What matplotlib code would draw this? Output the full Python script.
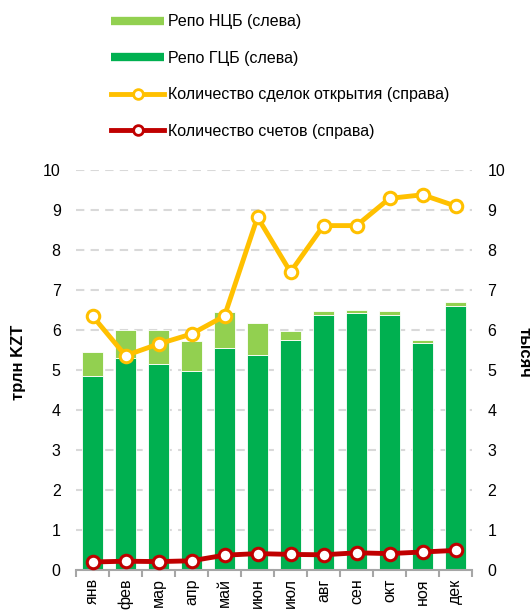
import matplotlib.pyplot as plt
from matplotlib.lines import Line2D
import numpy as np

plt.rcParams['font.family'] = ['Liberation Sans', 'DejaVu Sans']

months = ["янв", "фев", "мар", "апр", "май", "июн", "июл", "авг", "сен", "окт", "ноя", "дек"]
repo_gcb = [4.85, 5.30, 5.15, 4.97, 5.54, 5.37, 5.76, 6.38, 6.42, 6.38, 5.67, 6.59]
repo_total = [5.44, 6.00, 6.01, 5.73, 6.44, 6.17, 5.97, 6.47, 6.51, 6.48, 5.76, 6.71]
repo_ncb = [t - g for t, g in zip(repo_total, repo_gcb)]
deals = [6.35, 5.36, 5.65, 5.90, 6.35, 8.82, 7.45, 8.61, 8.61, 9.29, 9.38, 9.10]
accounts = [0.20, 0.22, 0.21, 0.23, 0.37, 0.41, 0.39, 0.38, 0.43, 0.41, 0.45, 0.49]

dark_green = "#00B050"
light_green = "#92D050"
yellow = "#FFC000"
red = "#C00000"

fig = plt.figure(figsize=(5.32, 6.10), dpi=100)
ax = fig.add_axes([76 / 532, 40 / 610, 396 / 532, 400 / 610])
ax2 = ax.twinx()

x = np.arange(len(months))
ax.bar(x, repo_gcb, width=0.66, color=dark_green, edgecolor="white", linewidth=0.6, zorder=2)
ax.bar(x, repo_ncb, width=0.66, bottom=repo_gcb, color=light_green, edgecolor="white", linewidth=0.6, zorder=2)

ax2.plot(x, deals, color=yellow, lw=3.5, marker="o", ms=9, mfc="white", mec=yellow, mew=2.2, zorder=3)
ax2.plot(x, accounts, color=red, lw=3.5, marker="o", ms=9, mfc="white", mec=red, mew=2.2, zorder=3)

for a in (ax, ax2):
    a.set_ylim(0, 10)
    a.set_xlim(-0.5, len(months) - 0.5)
    a.set_yticks(range(0, 11))
    for s in a.spines.values():
        s.set_visible(False)
    a.tick_params(axis="y", length=0, labelsize=11.5, pad=11)

ax.yaxis.grid(True, color="#D9D9D9", lw=1.5, ls=(0, (4, 3)), zorder=0)
ax.set_axisbelow(True)
ax.spines["bottom"].set_visible(True)
ax.spines["bottom"].set_color("#A6A6A6")
ax.spines["bottom"].set_linewidth(1.5)

ax.set_xticks(x)
ax.set_xticklabels(months, rotation=90, fontsize=11.5)
ax.set_xticks(np.arange(-0.5, len(months)), minor=True)
ax.tick_params(axis="x", which="major", length=0, pad=6)
ax.tick_params(axis="x", which="minor", length=5, width=1.5, color="#A6A6A6")

fig.text(19 / 532, 1 - 362 / 610, "трлн KZT", rotation=90, ha="center", va="center",
         fontsize=12, fontweight="bold")
fig.text(524 / 532, 1 - 352 / 610, "тысяч", rotation=-90, ha="center", va="center",
         fontsize=12, fontweight="bold")

handles = [
    Line2D([], [], color=light_green, lw=6, solid_capstyle="butt"),
    Line2D([], [], color=dark_green, lw=6, solid_capstyle="butt"),
    Line2D([], [], color=yellow, lw=3.5, marker="o", ms=7, mfc="white", mec=yellow, mew=2),
    Line2D([], [], color=red, lw=3.5, marker="o", ms=7, mfc="white", mec=red, mew=2),
]
labels = ["Репо НЦБ (слева)", "Репо ГЦБ (слева)",
          "Количество сделок открытия (справа)", "Количество счетов (справа)"]
fig.legend(handles, labels, loc="upper left", bbox_to_anchor=(100 / 532, 1 - 3 / 610),
           frameon=False, fontsize=11.5, handlelength=3.3, handletextpad=0.25,
           labelspacing=1.35, borderpad=0.2)

fig.savefig("out.png", dpi=100)
